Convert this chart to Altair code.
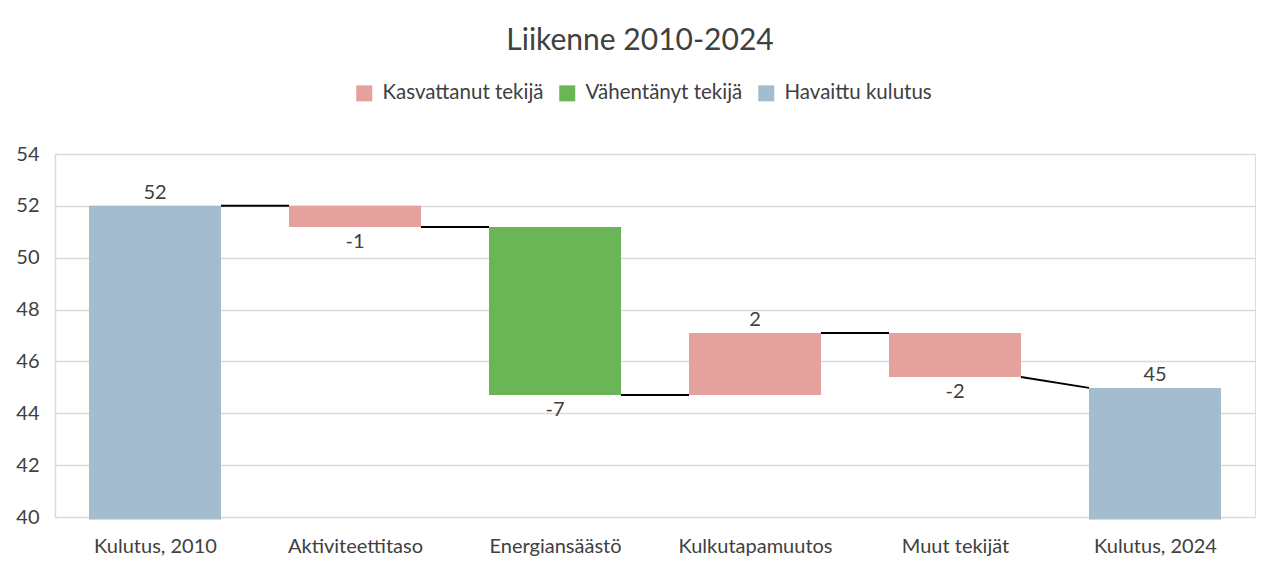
import altair as alt
import pandas as pd

categories = ["Kulutus, 2010", "Aktiviteettitaso", "Energiansäästö",
              "Kulkutapamuutos", "Muut tekijät", "Kulutus, 2024"]
bar_start = [39.9, 52.0, 51.18, 44.71, 47.10, 39.9]
bar_end = [52.0, 51.18, 44.71, 47.10, 45.40, 44.98]
value_labels = ["52", "-1", "-7", "2", "-2", "45"]
label_side = ["above", "below", "below", "above", "below", "above"]
groups = ["Havaittu kulutus", "Kasvattanut tekijä", "Vähentänyt tekijä",
          "Kasvattanut tekijä", "Kasvattanut tekijä", "Havaittu kulutus"]
legend_order = ["Kasvattanut tekijä", "Vähentänyt tekijä", "Havaittu kulutus"]
legend_colors = ["#E4A19D", "#6AB555", "#A3BDCE"]

HALF = 0.33
FONT = "Lato"
TXT = "#404040"

rows = []
for i, c in enumerate(categories):
    lo = min(bar_start[i], bar_end[i])
    hi = max(bar_start[i], bar_end[i])
    rows.append(dict(pos=i, x0=i - HALF, x1=i + HALF, lo=lo, hi=hi,
                     group=groups[i], label=value_labels[i], side=label_side[i]))
bars = pd.DataFrame(rows)

conn = []
for i in range(len(categories) - 1):
    nxt_is_total = groups[i + 1] == "Havaittu kulutus"
    y2 = bar_end[i + 1] if nxt_is_total else bar_start[i + 1]
    conn.append(dict(xa=i + HALF, xb=i + 1 - HALF, ya=bar_end[i], yb=y2))
conns = pd.DataFrame(conn)

label_expr = "[" + ",".join("'" + c + "'" for c in categories) + "][datum.value]"

xscale = alt.Scale(domain=[-0.5, len(categories) - 0.5], nice=False, zero=False)
yscale = alt.Scale(domain=[40, 54], nice=False, zero=False)

base = alt.Chart(bars)

bar_layer = base.mark_bar().encode(
    x=alt.X("x0:Q", scale=xscale,
            axis=alt.Axis(values=list(range(len(categories))), labelExpr=label_expr,
                          title=None, ticks=False, grid=False, domain=False,
                          labelFontSize=20, labelColor=TXT, labelFont=FONT,
                          labelPadding=19)),
    x2="x1:Q",
    y=alt.Y("lo:Q", scale=yscale,
            axis=alt.Axis(values=[40, 42, 44, 46, 48, 50, 52, 54], title=None,
                          ticks=False, grid=True, gridColor="#D9D9D9", gridWidth=1.5,
                          domain=True, domainColor="#D9D9D9", domainWidth=1.5,
                          labelFontSize=20, labelColor=TXT, labelFont=FONT,
                          labelPadding=16)),
    y2="hi:Q",
    color=alt.Color("group:N",
                    scale=alt.Scale(domain=legend_order, range=legend_colors),
                    legend=alt.Legend(title=None, orient="none", direction="horizontal",
                                      legendX=299, legendY=-71, symbolType="square",
                                      symbolSize=256, symbolStrokeWidth=0,
                                      labelFontSize=20.5, labelColor=TXT, labelFont=FONT,
                                      labelLimit=400,
                                      columnPadding=13, labelOffset=8, padding=0)),
)

conn_layer = alt.Chart(conns).mark_rule(color="#000000", strokeWidth=2).encode(
    x=alt.X("xa:Q", scale=xscale), x2="xb:Q",
    y=alt.Y("ya:Q", scale=yscale), y2="yb:Q",
)

above = base.transform_filter(alt.datum.side == "above").mark_text(
    baseline="bottom", dy=-3, fontSize=20, font=FONT, color=TXT
).encode(x=alt.X("pos:Q", scale=xscale), y=alt.Y("hi:Q", scale=yscale), text="label:N")

below = base.transform_filter(alt.datum.side == "below").mark_text(
    baseline="top", dy=5, fontSize=20, font=FONT, color=TXT
).encode(x=alt.X("pos:Q", scale=xscale), y=alt.Y("lo:Q", scale=yscale), text="label:N")

chart = alt.layer(bar_layer, conn_layer, above, below).properties(
    width=1200, height=363,
    autosize=alt.AutoSizeParams(type="none"),
    padding={"left": 47, "top": 146, "right": 17, "bottom": 57},
    title=alt.TitleParams("Liikenne 2010-2024", fontSize=30, font=FONT, color=TXT,
                          fontWeight="normal", anchor="middle", frame="group",
                          dx=-15, offset=3, baseline="alphabetic"),
).configure_view(stroke=None).configure(background="white")

chart.save("out.html", embed_options={"renderer": "svg", "actions": False})
